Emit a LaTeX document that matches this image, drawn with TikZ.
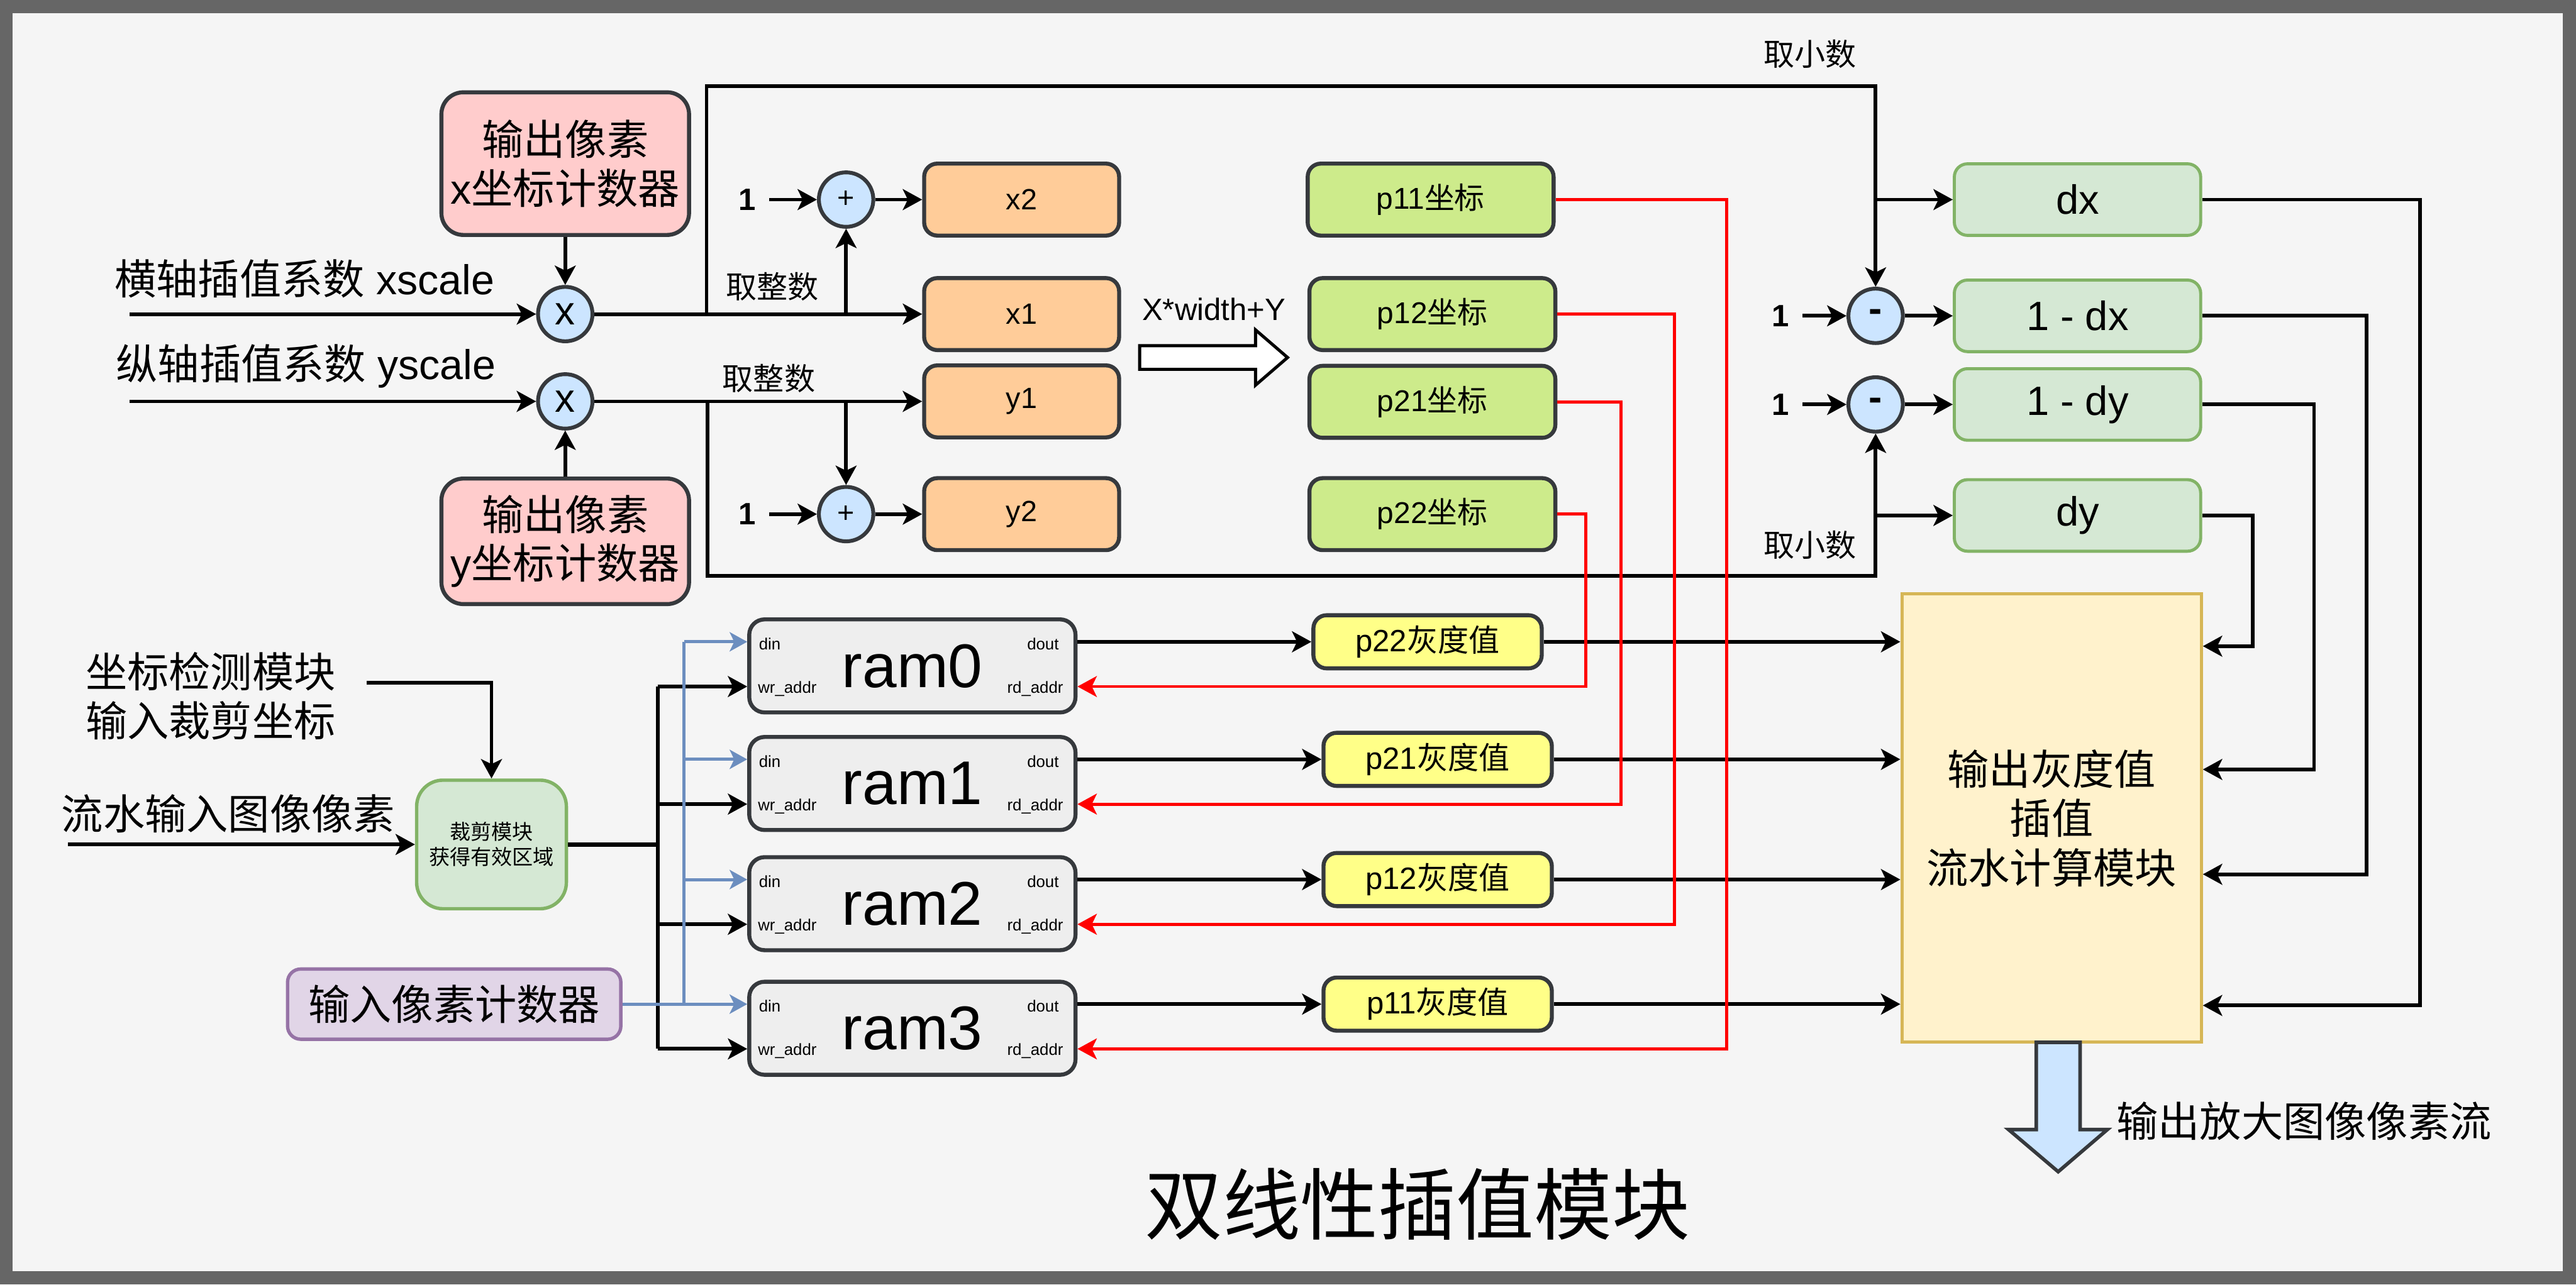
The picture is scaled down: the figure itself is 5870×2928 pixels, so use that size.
\documentclass[tikz,border=0pt]{standalone}
\usepackage{fontspec}
\setmainfont{Liberation Sans}
\newfontfamily\cjk{Noto Sans CJK SC}
\usepackage{tikz}
\usetikzlibrary{calc}
\usetikzlibrary{arrows.meta}

\definecolor{frameg}{HTML}{666666}
\definecolor{bgg}{HTML}{F5F5F5}
\definecolor{dark}{HTML}{36393D}
\definecolor{pinkf}{HTML}{FFCCCC}
\definecolor{bluef}{HTML}{CCE5FF}
\definecolor{orangef}{HTML}{FFCC99}
\definecolor{limef}{HTML}{CDEB8B}
\definecolor{yellowf}{HTML}{FFFF88}
\definecolor{greenf}{HTML}{D5E8D4}
\definecolor{greenb}{HTML}{82B366}
\definecolor{purplef}{HTML}{E1D5E7}
\definecolor{purpleb}{HTML}{9673A6}
\definecolor{goldf}{HTML}{FFF2CC}
\definecolor{goldb}{HTML}{D6B656}
\definecolor{ramf}{HTML}{EEEEEE}
\definecolor{wireb}{HTML}{6C8EBF}
\definecolor{wirer}{HTML}{FF0000}

\newcommand{\fsz}[2]{\fontsize{#1}{#2}\selectfont}

\begin{document}
\begin{tikzpicture}[x=0.01cm, y=-0.01cm,
  box/.style={draw=dark, line width=2.6pt, rounded corners=0.3cm, inner sep=0pt, align=center},
  cntbox/.style={box, fill=pinkf, rounded corners=0.5cm, minimum width=5.64cm, font=\fsz{27}{31.5}},
  opc/.style={circle, draw=dark, line width=2.5pt, fill=bluef, minimum size=1.24cm, inner sep=0pt},
  regbox/.style={box, fill=orangef, minimum width=4.44cm, minimum height=1.64cm, font=\fsz{19}{22}},
  addrbox/.style={box, fill=limef, minimum width=5.6cm, minimum height=1.64cm, font=\fsz{19.5}{22}},
  fracbox/.style={box, draw=greenb, line width=2pt, fill=greenf, minimum width=5.61cm, minimum height=1.63cm, font=\fsz{26.5}{30}},
  rambox/.style={box, fill=ramf, rounded corners=0.35cm, minimum width=7.43cm, minimum height=2.12cm, font=\fsz{40}{44}},
  port/.style={font=\fsz{10.5}{12}, inner sep=0pt},
  gvbox/.style={box, fill=yellowf, minimum width=5.2cm, minimum height=1.21cm, font=\fsz{20}{22}},
  comp/.style={draw=goldb, line width=2pt, fill=goldf, minimum width=6.82cm, minimum height=10.21cm, align=center, font=\cjk\fsz{27}{32}},
  cropbox/.style={box, draw=greenb, line width=2.2pt, fill=greenf, rounded corners=0.6cm, minimum width=3.41cm, minimum height=2.93cm, font=\cjk\fsz{13.5}{16.2}},
  cntin/.style={box, draw=purpleb, line width=2.2pt, fill=purplef, minimum width=7.59cm, minimum height=1.6cm, font=\cjk\fsz{27}{32}},
  lbl/.style={font=\fsz{27}{32}, align=center, inner sep=0pt},
  slbl/.style={font=\fsz{20}{24}, inner sep=0pt},
  one/.style={font=\bfseries\fsz{20}{24}, inner xsep=0.3cm, inner ysep=0pt},
  wire/.style={line width=2.4pt},
  arr/.style={wire, -{Stealth[length=12.5pt, width=13.5pt, inset=3.2pt]}},
  rarr/.style={line width=2pt, draw=wirer, -{Stealth[length=12.5pt, width=13.5pt, inset=3.2pt]}},
  bline/.style={line width=2pt, draw=wireb},
  barr/.style={bline, -{Stealth[length=11.4pt, width=12.5pt, inset=3pt]}},
  hollow/.style={draw=black, line width=2pt, fill=white},
  outarr/.style={draw=dark, line width=2.3pt, fill=bluef}
]

% frame
\fill[frameg] (0,0) rectangle (5870,2928);
\fill[bgg] (28,30) rectangle (5840,2898);

% --- coordinate counters and scale factors ---
\node[cntbox, minimum height=3.25cm] (xcnt) at (1288,373) {{\cjk 输出像素}\\x{\cjk 坐标计数器}};
\node[cntbox, minimum height=2.86cm] (ycnt) at (1288,1234) {{\cjk 输出像素}\\y{\cjk 坐标计数器}};
\node[opc, font=\fsz{26}{30}] (mulx) at (1288,716) {x};
\node[opc, font=\fsz{26}{30}] (muly) at (1288,915) {x};
\node[lbl] (xsc) at (694,636) {{\cjk 横轴插值系数} xscale};
\node[lbl] (ysc) at (697,835) {{\cjk 纵轴插值系数} yscale};
\coordinate (xin) at (295,716);
\coordinate (yin) at (295,915);

\draw[arr] (xin) -- (mulx);
\draw[arr] (yin) -- (muly);
\draw[arr] (xcnt) -- (mulx);
\draw[arr] (ycnt) -- (muly);

% --- integer part ---
\node[opc, font=\fsz{19}{22}] (addx) at (1928,455) {+};
\node[opc, font=\fsz{19}{22}] (addy) at (1928,1172) {+};
\node[one] (onea) at (1703,455) {1};
\node[one] (oneb) at (1703,1172) {1};
\node[regbox] (x2) at (2328,455) {x2};
\node[regbox] (x1) at (2328,716) {x1};
\node[regbox] (y1) at (2328,915) {y1};
\node[regbox] (y2) at (2328,1172) {y2};
\node[slbl] (intx) at (1760,654) {\cjk 取整数};
\node[slbl] (inty) at (1752,863) {\cjk 取整数};

\draw[arr] (mulx) -- (x1);
\draw[arr] (muly) -- (y1);
\draw[arr] (addx |- x1) -- (addx);
\draw[arr] (addy |- y1) -- (addy);
\draw[arr] (onea) -- (addx);
\draw[arr] (oneb) -- (addy);
\draw[arr] (addx) -- (x2);
\draw[arr] (addy) -- (y2);

% --- pixel addresses ---
\node[slbl] (conv) at (2766,705) {X*width+Y};
\draw[hollow] (2597,788) -- (2861,788) -- (2861,752) -- (2934,815) -- (2861,878) -- (2861,842) -- (2597,842) -- cycle;
\node[addrbox] (p11c) at (3260,455) {p11{\cjk 坐标}};
\node[addrbox] (p12c) at (3264,716) {p12{\cjk 坐标}};
\node[addrbox] (p21c) at (3264,916) {p21{\cjk 坐标}};
\node[addrbox] (p22c) at (3264,1172) {p22{\cjk 坐标}};

% --- fractional part ---
\coordinate (fx) at (1610,716);
\coordinate (fxt) at (1610,196);
\coordinate (fy) at (1612,915);
\coordinate (fyb) at (1612,1313);
\node[slbl] (fracx) at (4125,123) {\cjk 取小数};
\node[slbl] (fracy) at (4125,1242) {\cjk 取小数};
\node[opc, font=\bfseries\fsz{26}{28}] (sub1) at (4274,720) {-};
\node[opc, font=\bfseries\fsz{26}{28}] (sub2) at (4274,922) {-};
\node[one] (onec) at (4057,720) {1};
\node[one] (oned) at (4057,922) {1};
\node[fracbox] (dx) at (4734,455) {dx};
\node[fracbox] (omdx) at (4734,720) {1 - dx};
\node[fracbox] (omdy) at (4734,922) {1 - dy};
\node[fracbox] (dy) at (4734,1175) {dy};

\draw[arr] (fx) -- (fxt) -| (sub1);
\draw[arr] (sub1 |- dx) -- (dx);
\draw[arr] (fy) -- (fyb) -| (sub2);
\draw[arr] (sub2 |- dy) -- (dy);
\draw[arr] (onec) -- (sub1);
\draw[arr] (oned) -- (sub2);
\draw[arr] (sub1) -- (omdx);
\draw[arr] (sub2) -- (omdy);

% --- interpolation module ---
\node[comp] (comp) at (4675,1865) {输出灰度值\\插值\\流水计算模块};
\draw[arr] (dy) -| (5133,1473) -- (comp.east |- 0,1473);
\draw[arr] (omdy) -| (5273,1754) -- (comp.east |- 0,1754);
\draw[arr] (omdx) -| (5393,1993) -- (comp.east |- 0,1993);
\draw[arr] (dx) -| (5515,2292) -- (comp.east |- 0,2292);

% --- line buffers ---
\foreach \i/\yc in {0/1518,1/1786,2/2060,3/2344}{
  \node[rambox] (ram\i) at (2079,\yc) {ram\i};
  \coordinate (din\i) at ($(ram\i.west)+(0,-55)$);
  \coordinate (wr\i) at ($(ram\i.west)+(0,47)$);
  \coordinate (dout\i) at ($(ram\i.east)+(0,-55)$);
  \coordinate (rd\i) at ($(ram\i.east)+(0,47)$);
  \node[port, anchor=west] (pdin\i) at ($(din\i)+(26,5)$) {din};
  \node[port, anchor=west] (pwr\i) at ($(wr\i)+(24,5)$) {wr\_addr};
  \node[port, anchor=east] (pdout\i) at ($(dout\i)+(-42,5)$) {dout};
  \node[port, anchor=east] (prd\i) at ($(rd\i)+(-32,5)$) {rd\_addr};
}

\node[gvbox] (gv0) at (3253,1463) {p22{\cjk 灰度值}};
\node[gvbox] (gv1) at (3276,1731) {p21{\cjk 灰度值}};
\node[gvbox] (gv2) at (3276,2005) {p12{\cjk 灰度值}};
\node[gvbox] (gv3) at (3276,2289) {p11{\cjk 灰度值}};

\foreach \i in {0,...,3}{
  \draw[arr] (dout\i) -- (gv\i);
  \draw[arr] (gv\i) -- (comp.west |- gv\i);
}

% read addresses
\draw[rarr] (p22c) -| (rd0 -| 3613,0) -- (rd0);
\draw[rarr] (p21c) -| (rd1 -| 3694,0) -- (rd1);
\draw[rarr] (p12c) -| (rd2 -| 3815,0) -- (rd2);
\draw[rarr] (p11c) -| (rd3 -| 3934,0) -- (rd3);

% --- input side ---
\node[lbl] (cdet) at (480,1587) {{\cjk 坐标检测模块}\\{\cjk 输入裁剪坐标}};
\node[lbl] (flow) at (520,1855) {\cjk 流水输入图像像素};
\node[cropbox] (crop) at (1120,1925) {裁剪模块\\获得有效区域};
\node[cntin] (pcnt) at (1035,2289) {输入像素计数器};
\coordinate (pin) at (155,1925);
\coordinate (bus) at (1499,1925);

\draw[arr] (pin) -- (crop);
\draw[arr] ($(cdet.east)+(70,-31)$) -| (crop);
\draw[wire, line width=2.7pt] (crop) -- (bus);
\draw[wire, line width=2.7pt] (bus |- wr0) -- (bus |- wr3);
\foreach \i in {0,...,3}
  \draw[arr] (bus |- wr\i) -- (wr\i);

\draw[barr] (pcnt) -- (din3);
\draw[bline] (pcnt.east -| 1559,0) -- (din0 -| 1559,0);
\foreach \i in {0,1,2}
  \draw[barr] (din\i -| 1559,0) -- (din\i);

% --- output ---
\draw[outarr] (4640,2376) -- (4640,2575) -- (4577,2575) -- (4690,2671) -- (4802,2575) -- (4740,2575) -- (4740,2376) -- cycle;
\node[lbl] (outl) at (5250,2556) {\cjk 输出放大图像像素流};
\node[font=\cjk\fsz{50.5}{56}, inner sep=0pt] (ttl) at (3230,2745) {双线性插值模块};

\end{tikzpicture}
\end{document}
